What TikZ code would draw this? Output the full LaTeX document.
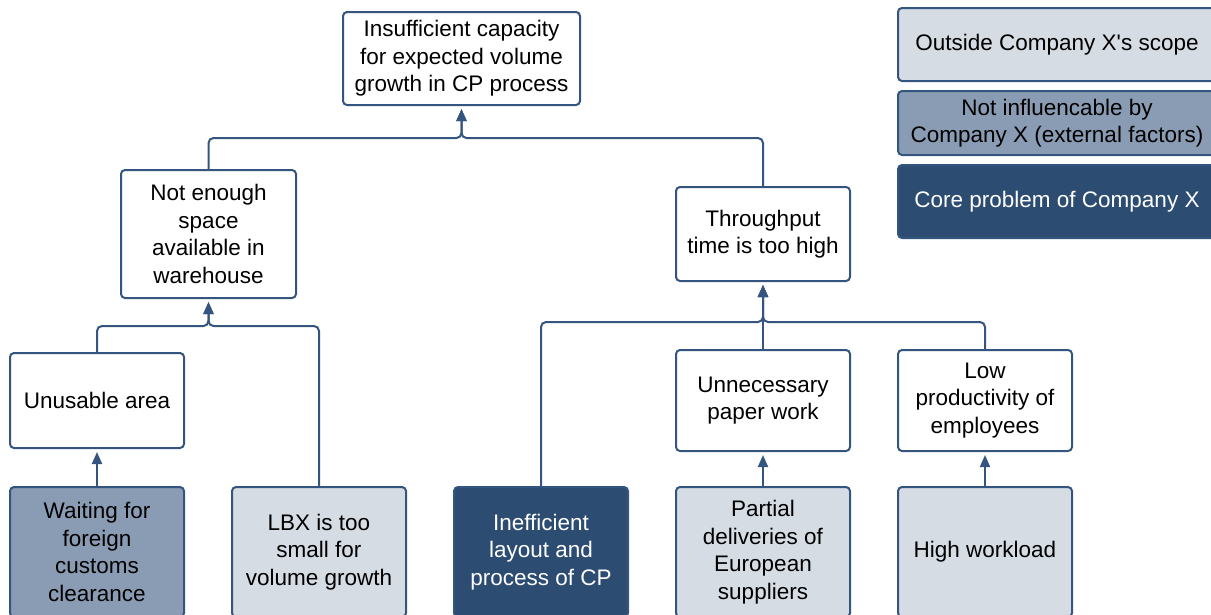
\documentclass[tikz,border=0pt]{standalone}
\usepackage{fontspec}
\setmainfont{Liberation Sans}
\usetikzlibrary{arrows.meta}
\definecolor{edgeblue}{HTML}{34557F}
\definecolor{lightfill}{HTML}{D6DCE4}
\definecolor{midfill}{HTML}{8A9CB4}
\definecolor{darkfill}{HTML}{2C4C72}
\begin{document}
\begin{tikzpicture}[x=1pt,y=-1pt,
  box/.style={draw=edgeblue, line width=2pt, rounded corners=4pt, align=center,
    font=\fontsize{22.5}{27.5}\selectfont, inner sep=0pt, fill=white,
    minimum width=174pt},
  outside/.style={box, fill=lightfill},
  external/.style={box, fill=midfill},
  core/.style={box, fill=darkfill, text=white},
  conn/.style={draw=edgeblue, line width=2pt, rounded corners=5pt,
    -{Triangle[length=12pt,width=10pt]}, shorten >=3pt}]
\useasboundingbox (0,0) rectangle (1211,614);

% top level
\node[box, minimum width=237pt, minimum height=93pt] (top) at (461.5,58.5)
  {Insufficient capacity\\for expected volume\\growth in CP process};

% second level
\node[box, minimum width=175pt, minimum height=128pt] (ne) at (208.5,234)
  {Not enough\\space\\available in\\warehouse};
\node[box, minimum height=94pt] (tp) at (763,234)
  {Throughput\\time is too high};

% third level
\node[box, minimum height=95pt] (ua) at (97,400.5) {Unusable area};
\node[box, minimum height=101pt] (up) at (763,400.5) {Unnecessary\\paper work};
\node[box, minimum height=101pt] (lp) at (985,400.5) {Low\\productivity of\\employees};

% root causes
\node[external, minimum height=130pt] (wf) at (97,552)
  {Waiting for\\foreign\\customs\\clearance};
\node[outside, minimum height=130pt] (lbx) at (319,552)
  {LBX is too\\small for\\volume growth};
\node[core, minimum height=130pt] (ie) at (541,552)
  {Inefficient\\layout and\\process of CP};
\node[outside, minimum height=130pt] (pd) at (763,552)
  {Partial\\deliveries of\\European\\suppliers};
\node[outside, minimum height=130pt] (hw) at (985,552) {High workload};

% legend
\node[outside, minimum width=318pt, minimum height=73pt] (lg1) at (1057,44.5)
  {Outside Company X\textquotesingle s scope};
\node[external, minimum width=318pt, minimum height=64pt] (lg2) at (1057,123)
  {Not influencable by\\Company X (external factors)};
\node[core, minimum width=318pt, minimum height=73pt] (lg3) at (1057,201.5)
  {Core problem of Company X};

% junctions
\coordinate (j1) at (461.5,138);
\coordinate (j2) at (208.5,326);
\coordinate (j3) at (763,322);

% connectors
\draw[conn] (ne.north) |- (j1) -- (top.south);
\draw[conn] (tp.north) |- (j1) -- (top.south);
\draw[conn] (ua.north) |- (j2) -- (ne.south);
\draw[conn] (lbx.north) |- (j2) -- (ne.south);
\draw[conn] (ie.north) |- (j3) -- (tp.south);
\draw[conn] (up.north) -- (tp.south);
\draw[conn] (lp.north) |- (j3) -- (tp.south);
\draw[conn] (wf.north) -- (ua.south);
\draw[conn] (pd.north) -- (up.south);
\draw[conn] (hw.north) -- (lp.south);
\end{tikzpicture}
\end{document}
